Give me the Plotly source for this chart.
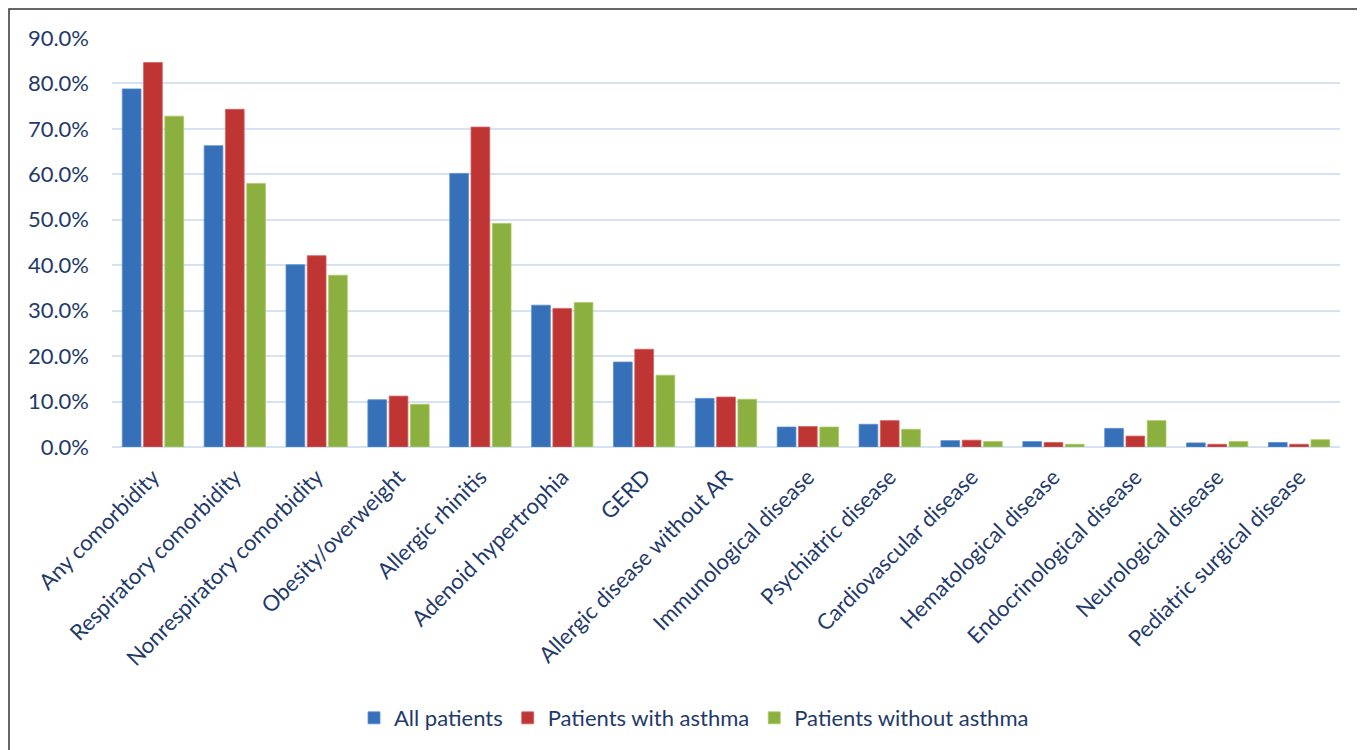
import plotly.graph_objects as go

categories = [
    "Any comorbidity", "Respiratory comorbidity", "Nonrespiratory comorbidity",
    "Obesity/overweight", "Allergic rhinitis", "Adenoid hypertrophia", "GERD",
    "Allergic disease without AR", "Immunological disease", "Psychiatric disease",
    "Cardiovascular disease", "Hematological disease", "Endocrinological disease",
    "Neurological disease", "Pediatric surgical disease",
]
all_patients = [78.8, 66.3, 40.1, 10.4, 60.2, 31.2, 18.7, 10.7, 4.4, 5.0, 1.4, 1.2, 4.1, 0.9, 1.0]
with_asthma = [84.6, 74.3, 42.1, 11.2, 70.4, 30.5, 21.5, 11.0, 4.5, 5.8, 1.5, 1.0, 2.4, 0.6, 0.6]
without_asthma = [72.8, 58.0, 37.8, 9.4, 49.2, 31.8, 15.8, 10.5, 4.4, 3.9, 1.2, 0.6, 5.8, 1.2, 1.6]
series_names = ["All patients", "Patients with asthma", "Patients without asthma"]
y_ticks = [0, 10, 20, 30, 40, 50, 60, 70, 80, 90]

colors = ["#3570B9", "#BE3533", "#8CB03F"]
edge = ["#5B8FD0", "#D86060", "#A9CB62"]
navy = "#1F3A6B"
FONT = "Lato, Carlito, Calibri, sans-serif"

fig = go.Figure()
for name, vals, c, e in zip(series_names, [all_patients, with_asthma, without_asthma], colors, edge):
    fig.add_trace(go.Bar(
        x=categories, y=[v / 100 for v in vals], name=name,
        marker=dict(color=c, line=dict(color=e, width=0.8)),
    ))

# page body has an 8px offset, so figure coords = screen coords - 8
OFF = 8
L, R, T, B = 112 - OFF, 1340 - OFF, 38 - OFF, 447 - OFF
W, H = 1365, 750
pw, ph = R - L, B - T

fig.update_layout(
    width=W, height=H,
    margin=dict(l=L, r=W - R, t=T, b=H - B, pad=0),
    paper_bgcolor="white", plot_bgcolor="white",
    barmode="group", bargap=0.22, bargroupgap=0.12,
    font=dict(family=FONT, color=navy, size=22),
    xaxis=dict(
        tickangle=-45, tickfont=dict(size=22, color=navy, family=FONT),
        showgrid=False, showline=False, ticks="", ticklabelstandoff=12,
    ),
    yaxis=dict(
        range=[0, 0.9], tickvals=[t / 100 for t in y_ticks], tickformat=".1%",
        tickfont=dict(size=22, color=navy, family=FONT),
        showgrid=True, gridcolor="#D5E2F2", gridwidth=2,
        zeroline=True, zerolinecolor="#D5E2F2", zerolinewidth=2,
        ticks="", ticklabelstandoff=22,
    ),
    legend=dict(
        orientation="h", x=(694 - OFF - L) / pw, xanchor="center",
        y=(B - (718 - OFF)) / ph, yanchor="middle",
        font=dict(size=22, color=navy, family=FONT),
        itemwidth=30, bgcolor="rgba(0,0,0,0)",
    ),
    showlegend=True,
)

fig.add_shape(
    type="rect", xref="paper", yref="paper", layer="below",
    x0=(1 - L) / pw, x1=(W + 10 - L) / pw,
    y0=(B - (H + 10)) / ph, y1=(B - 1) / ph,
    line=dict(color="#333333", width=1.5), fillcolor="rgba(0,0,0,0)",
)

fig.write_html("out.html")
